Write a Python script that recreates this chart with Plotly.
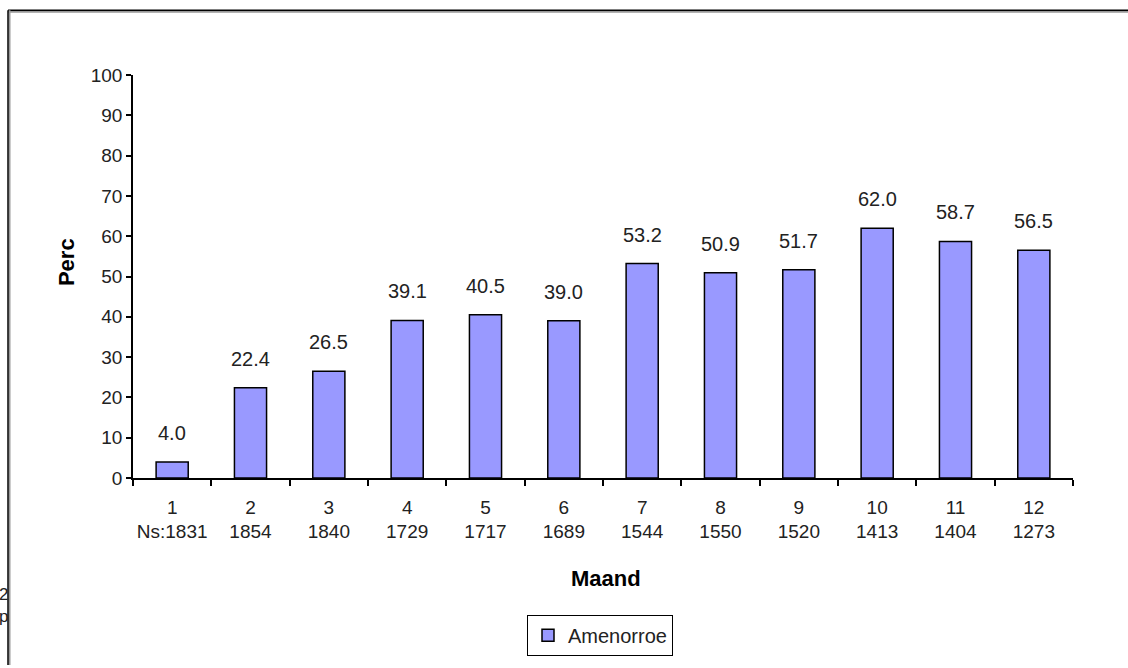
import plotly.graph_objects as go

months = ["1", "2", "3", "4", "5", "6", "7", "8", "9", "10", "11", "12"]
ns = ["Ns:1831", "1854", "1840", "1729", "1717", "1689", "1544", "1550", "1520", "1413", "1404", "1273"]
values = [4.0, 22.4, 26.5, 39.1, 40.5, 39.0, 53.2, 50.9, 51.7, 62.0, 58.7, 56.5]
yticks = [0, 10, 20, 30, 40, 50, 60, 70, 80, 90, 100]

cats = [f"{m}<br>{n}" for m, n in zip(months, ns)]

W, H = 1128, 668
L, R, T, B = 133, 55, 75, 188
pw, ph = W - L - R, H - T - B

def px(x):
    return (x - L) / pw

def py(y):
    return (H - B - y) / ph

FONT = "Liberation Sans, Arial, sans-serif"
TXT = "#222"

fig = go.Figure()
fig.add_trace(go.Bar(
    x=cats, y=values, name="Amenorroe",
    marker=dict(color="#9999FF", line=dict(color="black", width=1.5)),
))

for c, v in zip(cats, values):
    fig.add_annotation(x=c, y=v, text=f"{v:.1f}", showarrow=False,
                       yanchor="bottom", yshift=16,
                       font=dict(size=20, color=TXT, family=FONT))

fig.add_annotation(x=px(66), y=py(263), xref="paper", yref="paper", text="<b>Perc</b>",
                   xanchor="center", yanchor="middle",
                   textangle=-90, showarrow=False, font=dict(size=22, color="black", family=FONT))
fig.add_annotation(x=px(606), y=py(581), xref="paper", yref="paper", text="<b>Maand</b>",
                   xanchor="center", yanchor="middle",
                   showarrow=False, font=dict(size=22, color="black", family=FONT))
fig.add_annotation(x=px(9), y=py(608), xref="paper", yref="paper", text="2",
                   xanchor="right", yanchor="bottom", borderpad=0,
                   showarrow=False, font=dict(size=17, color=TXT, family=FONT))
fig.add_annotation(x=px(9), y=py(609), xref="paper", yref="paper", text="p",
                   xanchor="right", yanchor="top", borderpad=0,
                   showarrow=False, font=dict(size=17, color=TXT, family=FONT))

# frame
fig.add_shape(type="line", xref="paper", yref="paper", x0=px(8), x1=px(W), y0=py(11.5), y1=py(11.5),
              line=dict(color="#999", width=2))
fig.add_shape(type="line", xref="paper", yref="paper", x0=px(8), x1=px(W), y0=py(10), y1=py(10),
              line=dict(color="black", width=1.5))
fig.add_shape(type="line", xref="paper", yref="paper", x0=px(9.5), x1=px(9.5), y0=py(10), y1=py(H),
              line=dict(color="#999", width=2))
fig.add_shape(type="line", xref="paper", yref="paper", x0=px(8), x1=px(8), y0=py(10), y1=py(H),
              line=dict(color="black", width=1.5))

fig.update_layout(
    width=W, height=H,
    margin=dict(l=L, r=R, t=T, b=B),
    plot_bgcolor="white", paper_bgcolor="white",
    bargap=0.59,
    showlegend=True,
    legend=dict(x=px(600), xanchor="center", y=py(638), yanchor="middle",
                bordercolor="black", borderwidth=1, bgcolor="white",
                font=dict(size=20, color=TXT, family=FONT), itemwidth=30),
    font=dict(family=FONT, color=TXT),
)
fig.update_xaxes(showline=True, linecolor="black", linewidth=1.5, ticks="outside",
                 tickson="boundaries", ticklen=6, tickcolor="black", tickwidth=1.5,
                 ticklabelstandoff=11, tickangle=0,
                 tickfont=dict(size=19, family=FONT, color=TXT), showgrid=False)
fig.update_yaxes(range=[0, 100], tickvals=yticks, showline=True, linecolor="black", linewidth=1.5,
                 ticks="outside", ticklen=5, tickcolor="black", tickwidth=1.5,
                 tickfont=dict(size=19, family=FONT, color=TXT), showgrid=False, zeroline=False)

fig.write_html("out.html", config={"displayModeBar": False},
               post_script="document.body.style.margin='0';document.body.style.overflow='hidden';")
